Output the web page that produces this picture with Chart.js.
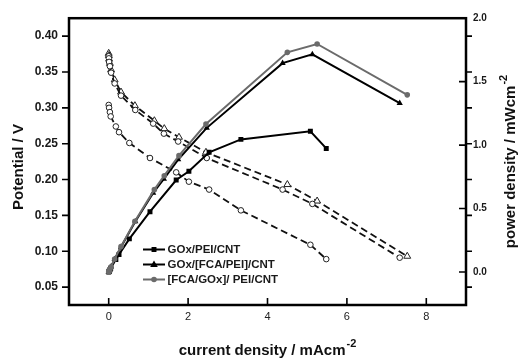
<!DOCTYPE html>
<html>
<head>
<meta charset="utf-8">
<script src="https://cdn.jsdelivr.net/npm/chart.js@4/dist/chart.umd.min.js"></script>
<style>
  html, body { margin: 0; padding: 0; background: #fff; }
  #wrap { width: 518px; height: 360px; }
</style>
</head>
<body>
<div id="wrap"><canvas id="c" width="518" height="360"></canvas></div>
<script>
// ── axis ticks ──
const xTicks = [0, 2, 4, 6, 8];
const leftTicks = [0.05, 0.10, 0.15, 0.20, 0.25, 0.30, 0.35, 0.40];
const rightTicks = [0.0, 0.5, 1.0, 1.5, 2.0];

// ── GOx/PEI/CNT ──
const curSq = [0, 0.01, 0.03, 0.05, 0.18, 0.26, 0.52, 1.04, 1.70, 2.02, 2.53, 3.33, 5.08, 5.48];
const potSq = [0.304, 0.300, 0.294, 0.288, 0.274, 0.266, 0.251, 0.230, 0.210, 0.197, 0.186, 0.157, 0.109, 0.089];
const powSq = [0, 0.006, 0.018, 0.029, 0.099, 0.138, 0.261, 0.475, 0.725, 0.794, 0.943, 1.045, 1.109, 0.974];

// ── GOx/[FCA/PEI]/CNT ──
const curTri = [0, 0.005, 0.01, 0.03, 0.06, 0.15, 0.31, 0.67, 1.12, 1.39, 1.75, 2.47, 4.38, 5.13, 7.33];
const potTri = [0.372, 0.369, 0.364, 0.358, 0.349, 0.334, 0.317, 0.297, 0.278, 0.264, 0.253, 0.230, 0.186, 0.166, 0.091];
const powTri = [0, 0.004, 0.007, 0.021, 0.042, 0.100, 0.197, 0.398, 0.623, 0.734, 0.886, 1.136, 1.646, 1.715, 1.330];

// ── [FCA/GOx]/ PEI/CNT ──
const curCir = [0, 0.005, 0.01, 0.03, 0.06, 0.15, 0.31, 0.66, 1.15, 1.40, 1.77, 2.45, 4.50, 5.25, 7.52];
const potCir = [0.376, 0.373, 0.368, 0.362, 0.353, 0.339, 0.322, 0.303, 0.282, 0.271, 0.259, 0.238, 0.193, 0.170, 0.093];
const powCir = [0, 0.004, 0.007, 0.022, 0.042, 0.102, 0.200, 0.400, 0.649, 0.759, 0.917, 1.166, 1.731, 1.797, 1.396];

const labels = ['GOx/PEI/CNT', 'GOx/[FCA/PEI]/CNT', '[FCA/GOx]/ PEI/CNT'];

const GRAY = '#6b6b6b';
const FONT = '"Liberation Sans", Arial, sans-serif';

const pts = (xs, ys) => xs.map((x, i) => ({ x: x, y: ys[i] }));

function powerSet(label, xs, ys, color, style, r, order) {
  return {
    label: label, data: pts(xs, ys), yAxisID: 'yR', showLine: true,
    borderColor: color, backgroundColor: color, borderWidth: 2,
    pointStyle: style, pointRadius: r, pointBorderWidth: 0, pointBackgroundColor: color,
    order: order
  };
}
function potSet(xs, ys, style, r, order) {
  return {
    label: '', data: pts(xs, ys), yAxisID: 'yL', showLine: true,
    borderColor: '#111', borderWidth: 1.8, borderDash: [7, 4],
    pointStyle: style, pointRadius: r, pointBorderWidth: 1,
    pointBorderColor: '#222', pointBackgroundColor: '#fff',
    order: order
  };
}

function drawMarker(ctx, style, x, y, r, color) {
  ctx.fillStyle = color;
  ctx.beginPath();
  if (style === 'rect') {
    const s = r * Math.SQRT1_2;
    ctx.rect(x - s, y - s, 2 * s, 2 * s);
  } else if (style === 'triangle') {
    ctx.moveTo(x, y - r);
    ctx.lineTo(x + r * 0.95, y + r * 0.6);
    ctx.lineTo(x - r * 0.95, y + r * 0.6);
    ctx.closePath();
  } else {
    ctx.arc(x, y, r, 0, Math.PI * 2);
  }
  ctx.fill();
}

const decor = {
  id: 'decor',
  afterDraw(chart) {
    const { ctx, chartArea: a, scales } = chart;
    const x = scales.x, yL = scales.yL, yR = scales.yR;
    ctx.save();

    // ticks
    ctx.strokeStyle = '#000';
    ctx.lineWidth = 1.6;
    ctx.beginPath();
    xTicks.forEach(v => { const p = x.getPixelForValue(v); ctx.moveTo(p, a.bottom); ctx.lineTo(p, a.bottom - 7); });
    leftTicks.forEach(v => {
      const p = yL.getPixelForValue(v);
      ctx.moveTo(a.left, p); ctx.lineTo(a.left - 7, p);
      ctx.moveTo(a.right, p); ctx.lineTo(a.right + 6, p);
    });
    rightTicks.forEach(v => { const p = yR.getPixelForValue(v); ctx.moveTo(a.right, p); ctx.lineTo(a.right - 7, p); });
    ctx.stroke();

    // frame
    ctx.lineWidth = 2.5;
    ctx.strokeRect(a.left, a.top, a.right - a.left, a.bottom - a.top);

    // axis titles
    ctx.fillStyle = '#111';
    ctx.textBaseline = 'alphabetic';
    ctx.font = 'bold 15px ' + FONT;

    ctx.save();
    ctx.translate(23, 167);
    ctx.rotate(-Math.PI / 2);
    ctx.textAlign = 'center';
    ctx.fillText('Potential / V', 0, 0);
    ctx.restore();

    const supTitle = (main, cx, cy, rot) => {
      ctx.save();
      ctx.translate(cx, cy);
      ctx.rotate(rot);
      ctx.font = 'bold 15px ' + FONT;
      const w1 = ctx.measureText(main).width;
      ctx.font = 'bold 11px ' + FONT;
      const w2 = ctx.measureText('-2').width;
      const x0 = -(w1 + w2) / 2;
      ctx.textAlign = 'left';
      ctx.font = 'bold 15px ' + FONT;
      ctx.fillText(main, x0, 0);
      ctx.font = 'bold 11px ' + FONT;
      ctx.fillText('-2', x0 + w1 + 1, -8);
      ctx.restore();
    };
    supTitle('current density / mAcm', 267, 355, 0);
    supTitle('power density / mWcm', 515, 162, -Math.PI / 2);

    // legend
    const rows = [
      { ds: 2, style: 'rect', r: 3.5, color: '#000' },
      { ds: 1, style: 'triangle', r: 4, color: '#000' },
      { ds: 0, style: 'circle', r: 2.8, color: GRAY }
    ];
    ctx.font = 'bold 11.5px ' + FONT;
    ctx.textAlign = 'left';
    ctx.textBaseline = 'middle';
    rows.forEach((row, i) => {
      const ly = 249.5 + i * 15;
      ctx.strokeStyle = row.color;
      ctx.lineWidth = 2;
      ctx.beginPath();
      ctx.moveTo(143, ly); ctx.lineTo(165, ly);
      ctx.stroke();
      drawMarker(ctx, row.style, 154, ly, row.r, row.color);
      ctx.fillStyle = '#1a1a1a';
      ctx.fillText(labels[i], 167.5, ly + 0.5);
    });

    ctx.restore();
  }
};

new Chart(document.getElementById('c'), {
  type: 'scatter',
  data: {
    datasets: [
      powerSet(labels[2], curCir, powCir, GRAY, 'circle', 2.8, 0),
      powerSet(labels[1], curTri, powTri, '#000', 'triangle', 3.6, 1),
      powerSet(labels[0], curSq, powSq, '#000', 'rect', 3.5, 2),
      potSet(curSq, potSq, 'circle', 2.8, 3),
      potSet(curTri, potTri, 'circle', 2.8, 4),
      potSet(curCir, potCir, 'triangle', 4, 5)
    ]
  },
  options: {
    responsive: false,
    animation: false,
    devicePixelRatio: 1,
    layout: { padding: { top: 10, left: 0, right: 0, bottom: 0 } },
    plugins: { legend: { display: false }, tooltip: { enabled: false } },
    scales: {
      x: {
        type: 'linear', position: 'bottom', min: -1, max: 9,
        grid: { display: false, drawTicks: false }, border: { display: false },
        afterBuildTicks: s => { s.ticks = xTicks.map(v => ({ value: v })); },
        afterFit: s => { s.height = 55; },
        ticks: { padding: 5, color: '#222', font: { size: 11, family: FONT }, callback: v => String(v) }
      },
      yL: {
        type: 'linear', position: 'left', min: 0.025, max: 0.425,
        grid: { display: false, drawTicks: false }, border: { display: false },
        afterBuildTicks: s => { s.ticks = leftTicks.map(v => ({ value: v })); },
        afterFit: s => { s.width = 69; },
        ticks: { padding: 11, color: '#1a1a1a', font: { size: 12, weight: 'bold', family: FONT }, callback: v => v.toFixed(2) }
      },
      yR: {
        type: 'linear', position: 'right', min: -0.26, max: 2.0,
        grid: { display: false, drawTicks: false }, border: { display: false },
        afterBuildTicks: s => { s.ticks = rightTicks.map(v => ({ value: v })); },
        afterFit: s => { s.width = 52; },
        ticks: { padding: 7, color: '#1a1a1a', font: { size: 10, weight: 'bold', family: FONT }, callback: v => v.toFixed(1) }
      }
    }
  },
  plugins: [decor]
});
</script>
</body>
</html>
